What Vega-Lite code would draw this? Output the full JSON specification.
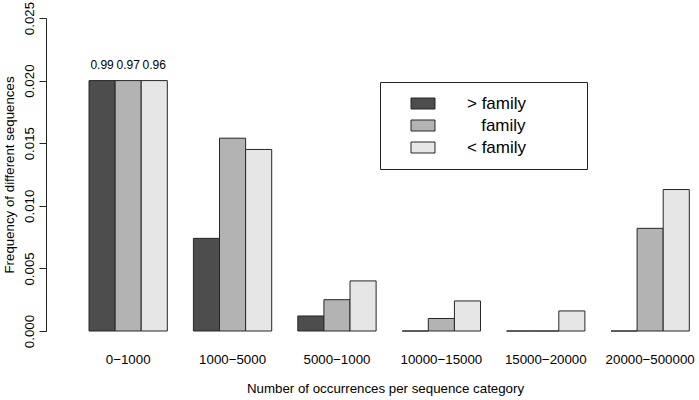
{
  "$schema": "https://vega.github.io/schema/vega-lite/v6.json",
  "width": 653,
  "height": 313,
  "autosize": "none",
  "padding": {"left": 46, "top": 18, "right": 0, "bottom": 69},
  "config": {
    "font": "Liberation Sans",
    "view": {"stroke": null},
    "axis": {"grid": false, "labelColor": "#000", "titleColor": "#000", "titleFontWeight": "normal", "labelFontSize": 13.3, "titleFontSize": 13.3, "labelFont": "Liberation Sans", "titleFont": "Liberation Sans"}
  },
  "data": {
    "values": [
      {"category": "0-1000", "group": "> family", "freq": 0.02, "label": "0.99"},
      {"category": "0-1000", "group": "family", "freq": 0.02, "label": "0.97"},
      {"category": "0-1000", "group": "< family", "freq": 0.02, "label": "0.96"},
      {"category": "1000-5000", "group": "> family", "freq": 0.0074, "label": null},
      {"category": "1000-5000", "group": "family", "freq": 0.0154, "label": null},
      {"category": "1000-5000", "group": "< family", "freq": 0.0145, "label": null},
      {"category": "5000-1000", "group": "> family", "freq": 0.0012, "label": null},
      {"category": "5000-1000", "group": "family", "freq": 0.0025, "label": null},
      {"category": "5000-1000", "group": "< family", "freq": 0.004, "label": null},
      {"category": "10000-15000", "group": "> family", "freq": 0, "label": null},
      {"category": "10000-15000", "group": "family", "freq": 0.001, "label": null},
      {"category": "10000-15000", "group": "< family", "freq": 0.0024, "label": null},
      {"category": "15000-20000", "group": "> family", "freq": 0, "label": null},
      {"category": "15000-20000", "group": "family", "freq": 0, "label": null},
      {"category": "15000-20000", "group": "< family", "freq": 0.0016, "label": null},
      {"category": "20000-500000", "group": "> family", "freq": 0, "label": null},
      {"category": "20000-500000", "group": "family", "freq": 0.0082, "label": null},
      {"category": "20000-500000", "group": "< family", "freq": 0.0113, "label": null}
    ]
  },
  "layer": [
    {
      "mark": {"type": "bar", "stroke": "#262626", "strokeWidth": 1},
      "encoding": {
        "x": {
          "field": "category", "type": "nominal",
          "sort": ["0-1000", "1000-5000", "5000-1000", "10000-15000", "15000-20000", "20000-500000"],
          "scale": {"paddingInner": 0.25, "paddingOuter": 0.2525, "align": 0.816},
          "title": "Number of occurrences per sequence category",
          "axis": {"domain": false, "ticks": false, "labelAngle": 0, "labelPadding": 21, "titlePadding": 16, "titleX": 339, "labelExpr": "replace(datum.label, '-', '\u2212')"}
        },
        "xOffset": {
          "field": "group", "type": "nominal",
          "sort": ["> family", "family", "< family"],
          "scale": {"paddingInner": 0, "paddingOuter": 0}
        },
        "y": {
          "field": "freq", "type": "quantitative",
          "scale": {"domain": [0, 0.025], "nice": false},
          "title": "Frequency of different sequences",
          "axis": {"values": [0, 0.005, 0.01, 0.015, 0.02, 0.025], "format": ".3f", "labelAngle": -90, "labelAlign": "center", "labelBaseline": "bottom", "tickSize": 7, "labelPadding": 3, "domainColor": "#222", "tickColor": "#222", "titlePadding": 6}
        },
        "fill": {
          "field": "group", "type": "nominal",
          "scale": {"domain": ["> family", "family", "< family"], "range": ["#4d4d4d", "#b3b3b3", "#e6e6e6"]},
          "legend": {
            "orient": "none", "legendX": 334, "legendY": 64,
            "title": null,
            "strokeColor": "#222", "padding": 13,
            "symbolType": "M-2.18,-1H2.18V1H-2.18Z", "symbolSize": 121,
            "symbolStrokeColor": "#262626", "symbolStrokeWidth": 1, "symbolOffset": 21.5,
            "labelFontSize": 17, "labelOffset": 35.5, "labelColor": "#000", "labelFont": "Liberation Sans", "labelLimit": 400,
            "rowPadding": 4,
            "labelExpr": "'\u200b' + (datum.label == 'family' ? '\u00a0\u00a0\u00a0' : '') + datum.label + '\u00a0\u00a0\u00a0\u00a0\u00a0\u00a0\u00a0\u00a0\u00a0\u00a0\u200b'"
          }
        }
      }
    },
    {
      "transform": [{"filter": "datum.label != null"}],
      "mark": {"type": "text", "fontSize": 12, "dy": -16, "color": "#000"},
      "encoding": {
        "x": {"field": "category", "type": "nominal", "sort": ["0-1000", "1000-5000", "5000-1000", "10000-15000", "15000-20000", "20000-500000"]},
        "xOffset": {"field": "group", "type": "nominal", "sort": ["> family", "family", "< family"]},
        "y": {"field": "freq", "type": "quantitative"},
        "text": {"field": "label"}
      }
    }
  ]
}
